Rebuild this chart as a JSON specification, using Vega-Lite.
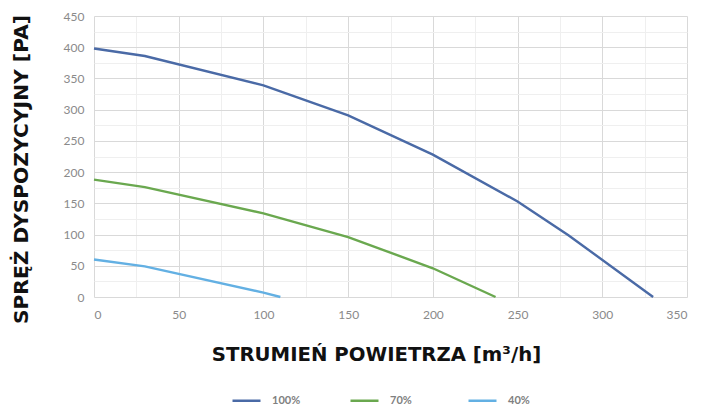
{
  "$schema": "https://vega.github.io/schema/vega-lite/v6.json",
  "autosize": {"type": "none"},
  "padding": {"left": 94, "top": 16, "right": 23, "bottom": 110},
  "width": 593,
  "height": 281,
  "background": "white",
  "config": {
    "view": {"stroke": null},
    "font": "Lato"
  },
  "data": {
    "values": [
      {"flow": 0, "pressure": 398, "series": "100%"},
      {"flow": 30, "pressure": 386, "series": "100%"},
      {"flow": 100, "pressure": 339, "series": "100%"},
      {"flow": 150, "pressure": 291, "series": "100%"},
      {"flow": 200, "pressure": 228, "series": "100%"},
      {"flow": 250, "pressure": 153, "series": "100%"},
      {"flow": 280, "pressure": 99, "series": "100%"},
      {"flow": 330, "pressure": 0, "series": "100%"},
      {"flow": 0, "pressure": 188, "series": "70%"},
      {"flow": 30, "pressure": 176, "series": "70%"},
      {"flow": 100, "pressure": 134, "series": "70%"},
      {"flow": 150, "pressure": 96, "series": "70%"},
      {"flow": 200, "pressure": 46, "series": "70%"},
      {"flow": 237, "pressure": 0, "series": "70%"},
      {"flow": 0, "pressure": 60, "series": "40%"},
      {"flow": 30, "pressure": 49, "series": "40%"},
      {"flow": 100, "pressure": 7, "series": "40%"},
      {"flow": 110, "pressure": 0, "series": "40%"}
    ]
  },
  "mark": {"type": "line", "strokeWidth": 2.4},
  "encoding": {
    "x": {
      "field": "flow",
      "type": "quantitative",
      "scale": {"domain": [0, 350], "nice": false},
      "axis": {
        "values": [0, 25, 50, 75, 100, 125, 150, 175, 200, 225, 250, 275, 300, 325, 350],
        "labelExpr": "datum.value % 50 === 0 ? datum.label : ''",
        "domain": false,
        "ticks": false,
        "grid": true,
        "gridColor": {"condition": {"test": "datum.value % 50 === 0", "value": "#d9d9d9"}, "value": "#efefef"},
        "labelColor": "#8a8a8a",
        "labelFontSize": 12,
        "labelPadding": 12,
        "labelFont": "Lato",
        "title": "STRUMIEŃ POWIETRZA [m³/h]",
        "titleFont": "DejaVu Sans",
        "titleFontWeight": "bold",
        "titleFontSize": 19.7,
        "titleColor": "#111111",
        "titleX": 282,
        "titleY": 47
      }
    },
    "y": {
      "field": "pressure",
      "type": "quantitative",
      "scale": {"domain": [0, 450], "nice": false},
      "axis": {
        "values": [0, 25, 50, 75, 100, 125, 150, 175, 200, 225, 250, 275, 300, 325, 350, 375, 400, 425, 450],
        "labelExpr": "datum.value % 50 === 0 ? datum.label : ''",
        "domain": false,
        "ticks": false,
        "grid": true,
        "gridColor": {"condition": {"test": "datum.value % 50 === 0", "value": "#d9d9d9"}, "value": "#efefef"},
        "labelColor": "#8a8a8a",
        "labelFontSize": 12,
        "labelPadding": 10,
        "labelFont": "Lato",
        "title": "SPRĘŻ DYSPOZYCYJNY [PA]",
        "titleFont": "DejaVu Sans",
        "titleFontWeight": "bold",
        "titleFontSize": 20.3,
        "titleColor": "#111111",
        "titleX": -63,
        "titleY": 153
      }
    },
    "color": {
      "field": "series",
      "type": "nominal",
      "sort": ["100%", "70%", "40%"],
      "scale": {"domain": ["100%", "70%", "40%"], "range": ["#4a6aa6", "#6aa84f", "#63b0e3"]},
      "legend": {
        "title": null,
        "orient": "none",
        "legendX": 137,
        "legendY": 369,
        "direction": "horizontal",
        "symbolType": "stroke",
        "symbolSize": 784,
        "symbolStrokeWidth": 2.5,
        "labelFontSize": 11,
        "labelFontWeight": "bold",
        "labelColor": "#808080",
        "labelOffset": 10,
        "gridAlign": "all",
        "columnPadding": 44
      }
    }
  }
}
